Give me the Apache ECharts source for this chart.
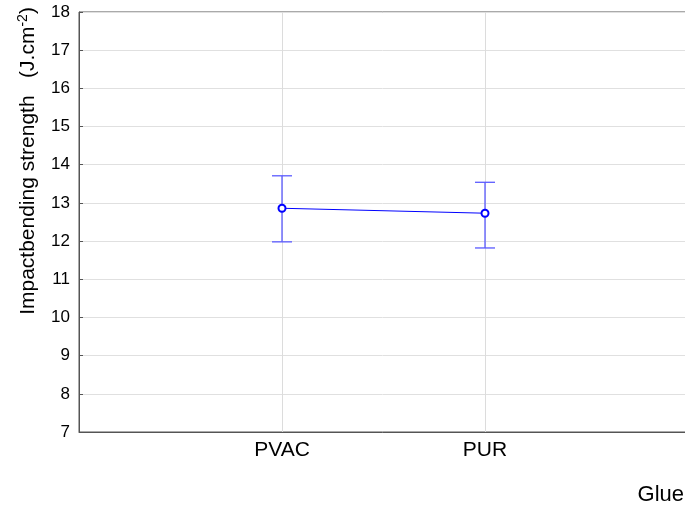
<!DOCTYPE html>
<html><head><meta charset="utf-8">
<script src="https://cdn.jsdelivr.net/npm/echarts@6/dist/echarts.min.js"></script>
<style>html,body{margin:0;padding:0;background:#fff}#c{width:685px;height:507px}</style>
</head><body><div id="c"></div>
<script>
const categories = ['', 'PVAC', 'PUR', ''];
const groups = ['PVAC', 'PUR'];
const means = [12.86, 12.73];
const upper = [13.71, 13.54];
const lower = [11.98, 11.82];
const yTicks = [7, 8, 9, 10, 11, 12, 13, 14, 15, 16, 17, 18];

const chart = echarts.init(document.getElementById('c'));
const font = '"Liberation Sans", Arial, sans-serif';
chart.setOption({
  animation: false,
  grid: { left: 79, right: -3, top: 12, bottom: 75, containLabel: false, outerBoundsMode: 'none', show: true, borderColor: '#555', borderWidth: 1, backgroundColor: 'transparent' },
  graphic: [{
    type: 'text', x: 28, y: 161, rotation: Math.PI / 2,
    style: {
      text: '{a|Impactbending strength   (J.cm}{s|-2}{a|)}',
      align: 'center', verticalAlign: 'middle',
      rich: { a: { fontFamily: font, fontSize: 21, fill: '#000' }, s: { fontFamily: font, fontSize: 14, fill: '#000', verticalAlign: 'top', padding: [0, 0, 10, 0] } }
    }
  }, {
    type: 'text', x: 684, y: 495,
    style: { text: 'Glue', fontFamily: font, fontSize: 22, fill: '#000', align: 'right', verticalAlign: 'middle' }
  }],
  xAxis: {
    type: 'category', data: categories, boundaryGap: false,
    axisLine: { lineStyle: { color: '#555' } },
    axisTick: { show: false },
    axisLabel: { fontFamily: font, fontSize: 21, color: '#000', margin: 8 },
    splitLine: { show: true, lineStyle: { color: '#dcdcdc' } }
  },
  yAxis: {
    type: 'value', min: yTicks[0], max: yTicks[yTicks.length - 1], interval: 1,
    axisLine: { show: true, lineStyle: { color: '#555' } },
    axisTick: { show: true, inside: true, length: 4, lineStyle: { color: '#555' } },
    axisLabel: { fontFamily: font, fontSize: 17, color: '#000', margin: 9 },
    splitLine: { lineStyle: { color: '#e0e0e0' } }
  },
  series: [
    {
      type: 'custom',
      data: groups.map((g, i) => [g, lower[i], upper[i]]),
      renderItem: function (params, api) {
        const x = api.value(0);
        const lo = api.coord([x, api.value(1)]);
        const hi = api.coord([x, api.value(2)]);
        const w = 10;
        const st = { stroke: '#5a5aff', lineWidth: 1.3 };
        return { type: 'group', children: [
          { type: 'line', shape: { x1: lo[0], y1: lo[1], x2: hi[0], y2: hi[1] }, style: st },
          { type: 'line', shape: { x1: hi[0] - w, y1: hi[1], x2: hi[0] + w, y2: hi[1] }, style: st },
          { type: 'line', shape: { x1: lo[0] - w, y1: lo[1], x2: lo[0] + w, y2: lo[1] }, style: st }
        ] };
      },
      z: 2
    },
    {
      type: 'line',
      data: groups.map((g, i) => [g, means[i]]),
      symbol: 'circle', symbolSize: 7,
      lineStyle: { color: '#0000ff', width: 1 },
      itemStyle: { color: '#fff', borderColor: '#0000ff', borderWidth: 2 },
      z: 3
    }
  ]
});
</script></body></html>
